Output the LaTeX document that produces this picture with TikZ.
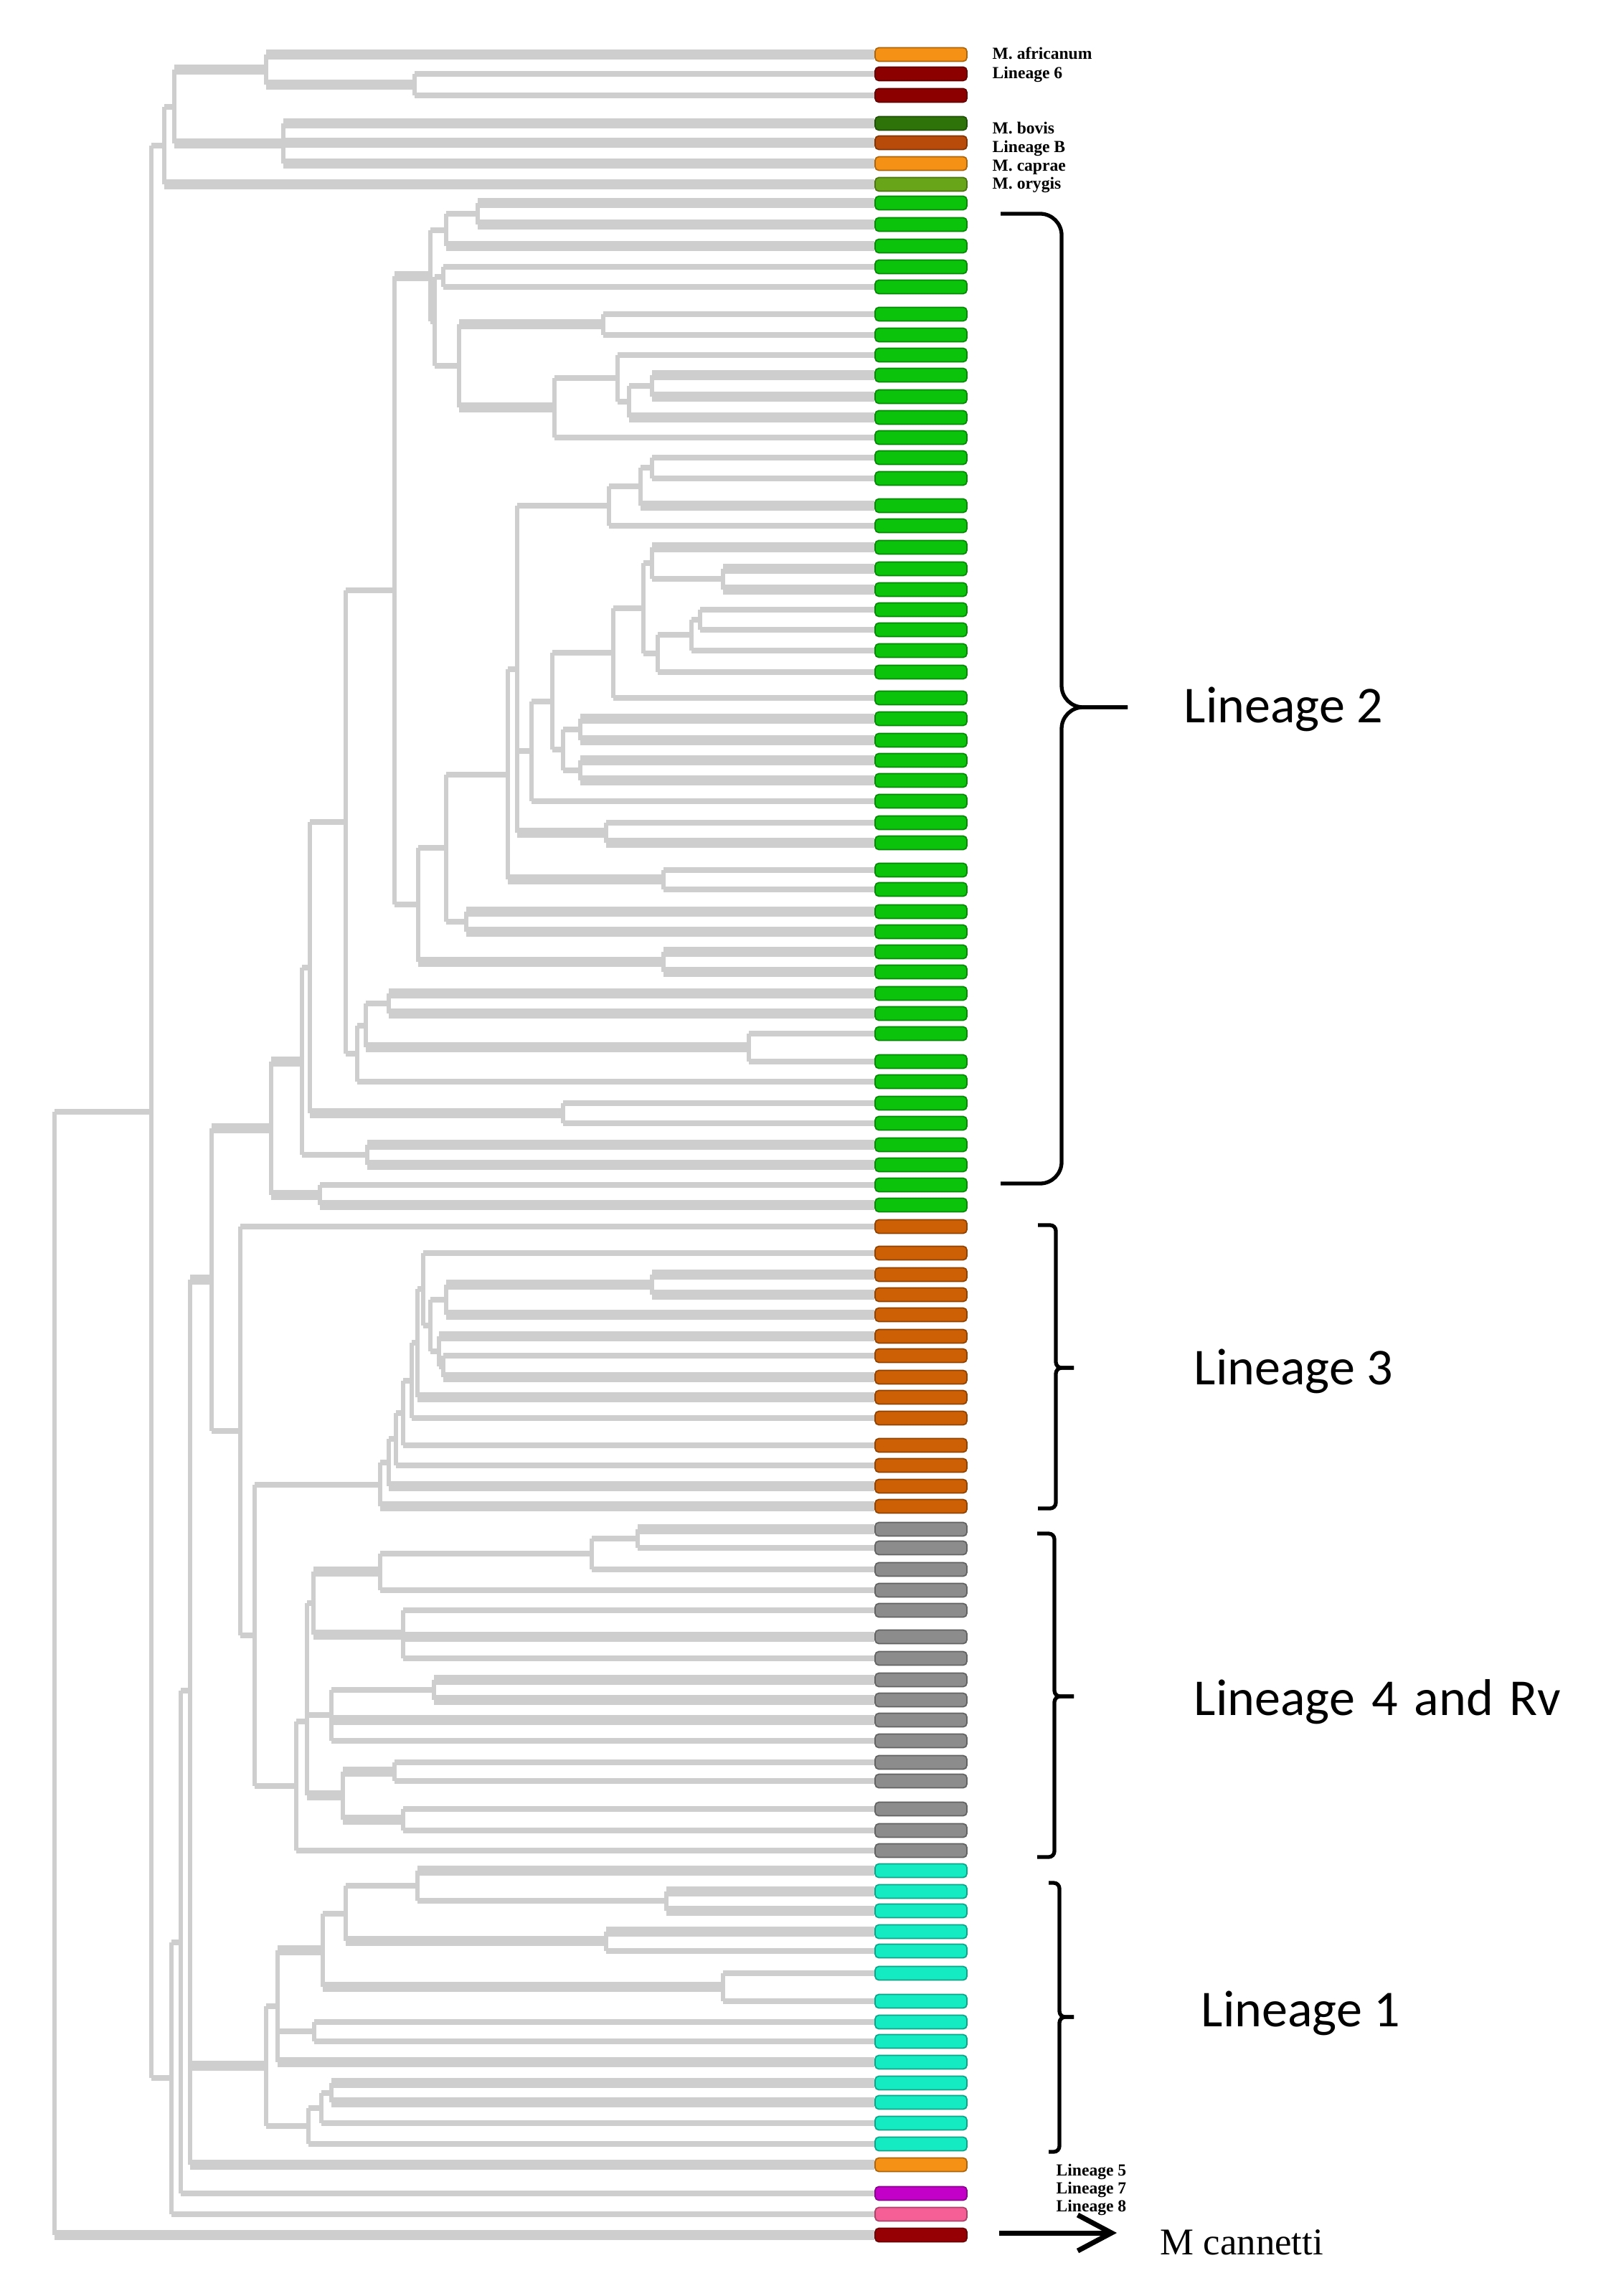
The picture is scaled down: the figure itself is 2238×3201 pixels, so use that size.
\documentclass[tikz,border=0pt]{standalone}
\usepackage{fontspec}
\setmainfont{Liberation Serif}
\newfontfamily\calib{Carlito}
\usetikzlibrary{arrows.meta}

\definecolor{branchgray}{RGB}{206,206,206}
\definecolor{afrorange}{RGB}{245,145,20}
\definecolor{sixred}{RGB}{140,0,0}
\definecolor{bovgreen}{RGB}{45,115,10}
\definecolor{linbbrown}{RGB}{185,75,10}
\definecolor{orygreen}{RGB}{105,165,25}
\definecolor{lintwo}{RGB}{10,195,10}
\definecolor{linthree}{RGB}{205,95,5}
\definecolor{linfour}{RGB}{140,140,140}
\definecolor{linone}{RGB}{20,235,195}
\definecolor{linseven}{RGB}{195,0,200}
\definecolor{lineight}{RGB}{245,95,150}
\definecolor{canred}{RGB}{150,0,5}

% branch widths
\newcommand{\brn}{2.4pt}
\newcommand{\brt}{3.9pt}
% one clade: parent, list of child/width
\newcommand{\clade}[2]{%
  \foreach \kid/\lw in {#2}{%
    \draw[stem] (#1) -- (#1 |- \kid);
    \draw[branch, line width=\lw] (#1 |- \kid) -- (\kid);
  }}

\begin{document}
\begin{tikzpicture}[x=0.01cm, y=-0.01cm,
    stem/.style={draw=branchgray, line width=1.8pt},
    branch/.style={draw=branchgray},
    bar/.style={fill=#1, draw=#1!70!black, line width=0.5pt, rounded corners=1.5pt,
        minimum width=1.28cm, minimum height=0.19cm, inner sep=0pt},
    tag/.style={font=\fontsize{6.7}{7}\selectfont\bfseries, anchor=base west, inner sep=0pt},
    lineagelabel/.style={font=\calib\fontsize{20.5}{24}\selectfont, anchor=base west, inner sep=0pt},
    brace/.style={draw=black, line width=1.5pt},
    pointer/.style={-{Straight Barb[length=4.7mm,width=5mm]}, line width=2pt}
  ]
  \fill[white] (0,0) rectangle (2238,3201);
  \useasboundingbox (0,0) rectangle (2238,3201);

  % leaves
  \node[bar=afrorange] (afr) at (1284,76) {};
  \node[bar=sixred] (lsix) at (1284,103) {};
  \node[bar=sixred] (lsixb) at (1284,133) {};
  \node[bar=bovgreen] (bov) at (1284,172) {};
  \node[bar=linbbrown] (linb) at (1284,199) {};
  \node[bar=afrorange] (cap) at (1284,228) {};
  \node[bar=orygreen] (ory) at (1284,257) {};
  \foreach \y [count=\i] in {283,313,343,372,400,438,467,495,523,553,582,610,638,667,705,733,
      763,793,822,850,878,907,937,973,1002,1032,1060,1088,1117,1147,1175,1213,1240,1271,
      1299,1327,1355,1385,1413,1441,1480,1508,1538,1566,1596,1624,1652,1680}
    \node[bar=lintwo] (G\i) at (1284,\y) {};
  \foreach \y [count=\i] in {1710,1747,1777,1805,1833,1863,1890,1920,1948,1977,2015,2043,2072,2100}
    \node[bar=linthree] (B\i) at (1284,\y) {};
  \foreach \y [count=\i] in {2132,2158,2188,2217,2245,2282,2312,2342,2370,2398,2427,2457,2483,2522,2552,2580}
    \node[bar=linfour] (R\i) at (1284,\y) {};
  \foreach \y [count=\i] in {2608,2637,2664,2693,2720,2751,2790,2819,2846,2875,2904,2931,2960,2989}
    \node[bar=linone] (C\i) at (1284,\y) {};
  \node[bar=afrorange] (lfive) at (1284,3018) {};
  \node[bar=linseven] (lseven) at (1284,3058) {};
  \node[bar=lineight] (leight) at (1284,3087) {};
  \node[bar=canred] (can) at (1284,3116) {};

  % inner nodes, top group
  \coordinate (T6) at (578,118);
  \coordinate (T1) at (371,97);
  \coordinate (TB) at (395,200);
  \coordinate (TA) at (243,149);
  \coordinate (T0) at (229,203);
  % lineage 2
  \coordinate (p1) at (666,298);   \coordinate (p2) at (622,321);
  \coordinate (p3) at (618,386);   \coordinate (p4) at (841,452);
  \coordinate (p5) at (909,538);   \coordinate (p6) at (877,560);
  \coordinate (p7) at (861,527);   \coordinate (p8) at (773,568);
  \coordinate (p9) at (640,510);   \coordinate (p10) at (606,448);
  \coordinate (p11) at (600,385);  \coordinate (p12) at (909,652);
  \coordinate (p13) at (893,678);  \coordinate (p14) at (849,705);
  \coordinate (p15) at (1008,807); \coordinate (p16) at (909,785);
  \coordinate (p17) at (976,864);  \coordinate (p18) at (964,885);
  \coordinate (p19) at (917,911);  \coordinate (p20) at (897,848);
  \coordinate (p21) at (855,910);  \coordinate (p22) at (809,1017);
  \coordinate (p23) at (809,1074); \coordinate (p24) at (785,1045);
  \coordinate (p25) at (770,978);  \coordinate (p26) at (741,1047);
  \coordinate (p27) at (845,1161); \coordinate (p28) at (721,933);
  \coordinate (p29) at (925,1226); \coordinate (p30) at (708,1080);
  \coordinate (p31) at (650,1285); \coordinate (p32) at (622,1182);
  \coordinate (p33) at (925,1341); \coordinate (p34) at (583,1261);
  \coordinate (p35) at (550,823);  \coordinate (p36) at (542,1399);
  \coordinate (p37) at (1044,1460);\coordinate (p38) at (510,1430);
  \coordinate (p39) at (498,1469); \coordinate (p40) at (482,1146);
  \coordinate (p41) at (785,1552); \coordinate (p42) at (432,1349);
  \coordinate (p43) at (512,1610); \coordinate (p44) at (421,1480);
  \coordinate (p45) at (446,1666); \coordinate (p46) at (378,1573);
  % lineage 3
  \coordinate (q1) at (909,1791);  \coordinate (q2) at (622,1812);
  \coordinate (q3) at (618,1905);  \coordinate (q4) at (612,1884);
  \coordinate (q5) at (600,1848);  \coordinate (q6) at (590,1797);
  \coordinate (q7) at (582,1872);  \coordinate (q8) at (574,1925);
  \coordinate (q9) at (562,1970);  \coordinate (q10) at (552,2006);
  \coordinate (q11) at (542,2039); \coordinate (q12) at (530,2070);
  % lineage 4
  \coordinate (s1) at (889,2145);  \coordinate (s2) at (825,2166);
  \coordinate (s3) at (530,2191);  \coordinate (s4) at (562,2279);
  \coordinate (s5) at (437,2235);  \coordinate (s6) at (605,2356);
  \coordinate (s7) at (462,2391);  \coordinate (s8) at (550,2470);
  \coordinate (s9) at (562,2537);  \coordinate (s10) at (478,2503);
  \coordinate (s11) at (428,2400); \coordinate (s12) at (413,2490);
  \coordinate (s13) at (355,2280); \coordinate (s14) at (335,1995);
  \coordinate (s15) at (295,1784);
  % lineage 1
  \coordinate (u1) at (929,2650);  \coordinate (u2) at (582,2629);
  \coordinate (u3) at (845,2706);  \coordinate (u4) at (482,2668);
  \coordinate (u5) at (1008,2770); \coordinate (u6) at (450,2719);
  \coordinate (u7) at (438,2832);  \coordinate (u8) at (387,2797);
  \coordinate (u9) at (462,2918);  \coordinate (u10) at (448,2939);
  \coordinate (u11) at (430,2964); \coordinate (u12) at (371,2880);
  % backbone
  \coordinate (n262) at (265,2357);
  \coordinate (n255) at (252,2708);
  \coordinate (n239) at (239,2897);
  \coordinate (n211) at (211,1550);
  \coordinate (root) at (76,2333);

  % top group
  \clade{T6}{lsix/\brn, lsixb/\brn}
  \clade{T1}{afr/\brt, T6/\brt}
  \clade{TB}{bov/\brt, linb/\brt, cap/\brt}
  \clade{TA}{T1/\brt, TB/\brt}
  \clade{T0}{TA/\brn, ory/\brt}
  % lineage 2
  \clade{p1}{G1/\brt, G2/\brt}
  \clade{p2}{p1/\brn, G3/\brt}
  \clade{p3}{G4/\brn, G5/\brn}
  \clade{p4}{G6/\brn, G7/\brn}
  \clade{p5}{G9/\brt, G10/\brt}
  \clade{p6}{p5/\brn, G11/\brt}
  \clade{p7}{G8/\brn, p6/\brn}
  \clade{p8}{p7/\brn, G12/\brn}
  \clade{p9}{p4/\brt, p8/\brt}
  \clade{p10}{p3/\brn, p9/\brn}
  \clade{p11}{p2/\brn, p10/\brn}
  \clade{p12}{G13/\brn, G14/\brn}
  \clade{p13}{p12/\brn, G15/\brt}
  \clade{p14}{p13/\brn, G16/\brn}
  \clade{p15}{G18/\brt, G19/\brt}
  \clade{p16}{G17/\brt, p15/\brn}
  \clade{p17}{G20/\brn, G21/\brn}
  \clade{p18}{p17/\brn, G22/\brn}
  \clade{p19}{p18/\brn, G23/\brn}
  \clade{p20}{p16/\brn, p19/\brn}
  \clade{p21}{p20/\brn, G24/\brn}
  \clade{p22}{G25/\brt, G26/\brt}
  \clade{p23}{G27/\brt, G28/\brt}
  \clade{p24}{p22/\brn, p23/\brn}
  \clade{p25}{p21/\brn, p24/\brn}
  \clade{p26}{p25/\brn, G29/\brn}
  \clade{p27}{G30/\brn, G31/\brt}
  \clade{p28}{p14/\brn, p26/\brn, p27/\brt}
  \clade{p29}{G32/\brn, G33/\brn}
  \clade{p30}{p28/\brn, p29/\brt}
  \clade{p31}{G34/\brt, G35/\brt}
  \clade{p32}{p30/\brn, p31/\brn}
  \clade{p33}{G36/\brt, G37/\brt}
  \clade{p34}{p32/\brn, p33/\brt}
  \clade{p35}{p11/\brt, p34/\brn}
  \clade{p36}{G38/\brt, G39/\brt}
  \clade{p37}{G40/\brn, G41/\brn}
  \clade{p38}{p36/\brn, p37/\brt}
  \clade{p39}{p38/\brn, G42/\brn}
  \clade{p40}{p35/\brn, p39/\brn}
  \clade{p41}{G43/\brn, G44/\brn}
  \clade{p42}{p40/\brn, p41/\brt}
  \clade{p43}{G45/\brt, G46/\brt}
  \clade{p44}{p42/\brn, p43/\brn}
  \clade{p45}{G47/\brn, G48/\brt}
  \clade{p46}{p44/\brt, p45/\brt}
  % lineage 3
  \clade{q1}{B3/\brt, B4/\brt}
  \clade{q2}{q1/\brt, B5/\brt}
  \clade{q3}{B7/\brn, B8/\brt}
  \clade{q4}{B6/\brt, q3/\brn}
  \clade{q5}{q2/\brn, q4/\brn}
  \clade{q6}{B2/\brn, q5/\brn}
  \clade{q7}{q6/\brn, B9/\brt}
  \clade{q8}{q7/\brn, B10/\brn}
  \clade{q9}{q8/\brn, B11/\brn}
  \clade{q10}{q9/\brn, B12/\brn}
  \clade{q11}{q10/\brn, B13/\brt}
  \clade{q12}{q11/\brn, B14/\brt}
  % lineage 4
  \clade{s1}{R1/\brt, R2/\brn}
  \clade{s2}{s1/\brn, R3/\brn}
  \clade{s3}{s2/\brn, R4/\brn}
  \clade{s4}{R5/\brn, R6/\brt, R7/\brn}
  \clade{s5}{s3/\brt, s4/\brt}
  \clade{s6}{R8/\brt, R9/\brt}
  \clade{s7}{s6/\brn, R10/\brt, R11/\brn}
  \clade{s8}{R12/\brn, R13/\brn}
  \clade{s9}{R14/\brn, R15/\brn}
  \clade{s10}{s8/\brt, s9/\brt}
  \clade{s11}{s5/\brn, s7/\brn, s10/\brt}
  \clade{s12}{s11/\brn, R16/\brn}
  \clade{s13}{q12/\brn, s12/\brn}
  \clade{s14}{B1/\brn, s13/\brn}
  \clade{s15}{p46/\brt, s14/\brn}
  % lineage 1
  \clade{u1}{C2/\brt, C3/\brt}
  \clade{u2}{C1/\brt, u1/\brn}
  \clade{u3}{C4/\brt, C5/\brn}
  \clade{u4}{u2/\brn, u3/\brt}
  \clade{u5}{C6/\brn, C7/\brn}
  \clade{u6}{u4/\brn, u5/\brt}
  \clade{u7}{C8/\brn, C9/\brn}
  \clade{u8}{u6/\brt, u7/\brn, C10/\brt}
  \clade{u9}{C11/\brt, C12/\brt}
  \clade{u10}{u9/\brn, C13/\brn}
  \clade{u11}{u10/\brn, C14/\brn}
  \clade{u12}{u8/\brn, u11/\brn}
  % backbone
  \clade{n262}{s15/\brt, u12/\brt, lfive/\brt}
  \clade{n255}{n262/\brn, lseven/\brn}
  \clade{n239}{n255/\brn, leight/\brn}
  \clade{n211}{T0/\brn, n239/\brn}
  \clade{root}{n211/\brn, can/\brt}

  % small names
  \node[tag] (afrtag) at (1383,83) {M. africanum};
  \node[tag] (sixtag) at (1383,110) {Lineage 6};
  \node[tag] (bovtag) at (1383,187) {M. bovis};
  \node[tag] (linbtag) at (1383,213) {Lineage B};
  \node[tag] (captag) at (1383,239) {M. caprae};
  \node[tag] (orytag) at (1383,264) {M. orygis};
  \node[tag] (fivetag) at (1472,3033) {Lineage 5};
  \node[tag] (seventag) at (1472,3058) {Lineage 7};
  \node[tag] (eighttag) at (1472,3083) {Lineage 8};
  \node[font=\fontsize{15}{18}\selectfont, anchor=base west, inner sep=0pt] (cantag) at (1617,3143) {M cannetti};
  \coordinate (arrtail) at (1393,3113);
  \coordinate (arrtip) at (1557,3113);
  \draw[pointer] (arrtail) -- (arrtip);

  % brackets
  \draw[brace, rounded corners=0.3cm] (1395,298) -| (1480,986) -- (1572,986);
  \draw[brace, rounded corners=0.3cm] (1395,1650) -| (1480,986) -- (1572,986);
  \draw[brace, rounded corners=0.08cm] (1447,1708) -| (1472,1907) -- (1497,1907);
  \draw[brace, rounded corners=0.08cm] (1447,2103) -| (1472,1907) -- (1497,1907);
  \draw[brace, rounded corners=0.08cm] (1446,2138) -| (1470,2365) -- (1497,2365);
  \draw[brace, rounded corners=0.08cm] (1446,2589) -| (1470,2365) -- (1497,2365);
  \draw[brace, rounded corners=0.08cm] (1462,2625) -| (1477,2812) -- (1497,2812);
  \draw[brace, rounded corners=0.08cm] (1462,3000) -| (1477,2812) -- (1497,2812);

  \node[lineagelabel] (labtwo) at (1650,1008) {Lineage 2};
  \node[lineagelabel] (labthree) at (1664,1930) {Lineage 3};
  \node[lineagelabel] (labfour) at (1664,2391) {\spaceskip=0.32em\relax Lineage 4 and Rv};
  \node[lineagelabel] (labone) at (1674,2825) {Lineage 1};
\end{tikzpicture}
\end{document}
